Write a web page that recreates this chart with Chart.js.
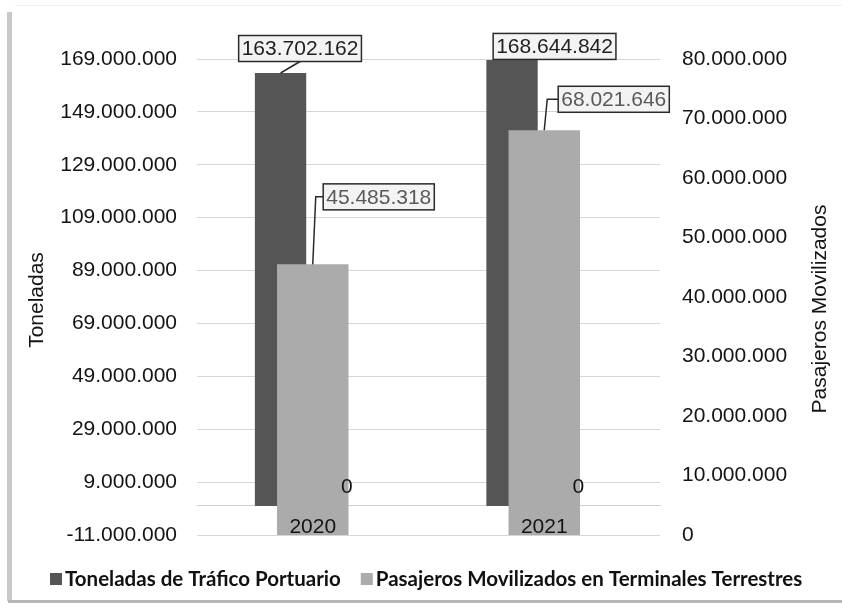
<!DOCTYPE html>
<html><head><meta charset="utf-8">
<style>html,body{margin:0;padding:0;background:#fff;}#wrap{width:842px;height:605px;}</style>
<script src="https://cdn.jsdelivr.net/npm/chart.js@4.4.0/dist/chart.umd.min.js"></script>
</head><body><div id="wrap"><canvas id="c" width="842" height="605"></canvas></div>
<script>
const categories = ['2020', '2021'];
const toneladas = [163702162, 168644842];
const serieCero = [0, 0];
const pasajeros = [45485318, 68021646];
const leftTicks = [-11000000, 9000000, 29000000, 49000000, 69000000, 89000000, 109000000, 129000000, 149000000, 169000000];
const rightTicks = [0, 10000000, 20000000, 30000000, 40000000, 50000000, 60000000, 70000000, 80000000];
const seriesNames = ['Toneladas de Tráfico Portuario', 'Serie 3', 'Pasajeros Movilizados en Terminales Terrestres'];
const axisTitles = ['Toneladas', 'Pasajeros Movilizados'];

function fmt(v) {
  const s = Math.abs(v).toString().replace(/\B(?=(\d{3})+(?!\d))/g, '.');
  return (v < 0 ? '-' : '') + s;
}

const FONT = "'Liberation Sans', Arial, sans-serif";
const TXT = '#141414';

// label placement (style): [dx, dy, leaderType]
const labelPlacement = {
  0: [[19.5, -24.5, 'straight'], [42.5, -13.5, 'none']],
  2: [[66, -67.5, 'elbow'], [69.5, -31, 'elbow']]
};
const labelTextColor = {0: '#222222', 2: '#5a5a5a'};

const decor = {
  id: 'decor',
  beforeDraw(chart) {
    const ctx = chart.ctx;
    ctx.save();
    ctx.fillStyle = '#ffffff';
    ctx.fillRect(0, 0, chart.width, chart.height);
    ctx.fillStyle = '#c8c8c8';
    ctx.fillRect(7, 12, 5, 589);
    ctx.fillStyle = '#b8b8b8';
    ctx.fillRect(8, 600, 834, 3);
    ctx.fillStyle = '#efefef';
    ctx.fillRect(15, 5, 827, 1);
    ctx.restore();
  },
  afterDraw(chart) {
    const ctx = chart.ctx;
    ctx.save();
    ctx.font = '21px ' + FONT;
    ctx.textAlign = 'center';
    ctx.textBaseline = 'middle';
    Object.keys(labelPlacement).forEach(di => {
      const meta = chart.getDatasetMeta(+di);
      const data = chart.data.datasets[di].data;
      meta.data.forEach((el, i) => {
        const [dx, dy, type] = labelPlacement[di][i];
        const bx = el.x, by = el.y;
        const cx = bx + dx, cy = by + dy;
        const txt = fmt(data[i]);
        const w = ctx.measureText(txt).width + 6;
        const h = 26;
        ctx.strokeStyle = '#2a2a2a';
        ctx.lineWidth = 1.5;
        if (type === 'straight') {
          ctx.beginPath(); ctx.moveTo(bx, by); ctx.lineTo(cx, cy + h / 2); ctx.stroke();
        } else if (type === 'elbow') {
          ctx.beginPath(); ctx.moveTo(bx, by); ctx.lineTo(bx + 3, cy); ctx.lineTo(cx - w / 2, cy); ctx.stroke();
        }
        ctx.fillStyle = '#f3f3f3';
        ctx.fillRect(cx - w / 2, cy - h / 2, w, h);
        ctx.strokeRect(cx - w / 2, cy - h / 2, w, h);
        ctx.fillStyle = labelTextColor[di];
        ctx.fillText(txt, cx, cy + 1);
      });
    });
    const m1 = chart.getDatasetMeta(1);
    ctx.fillStyle = TXT;
    m1.data.forEach((el, i) => {
      ctx.fillText(fmt(chart.data.datasets[1].data[i]), el.x + 2, el.y - 19);
    });
    ctx.save(); ctx.translate(37, 300); ctx.rotate(-Math.PI / 2); ctx.fillText(axisTitles[0], 0, 0); ctx.restore();
    ctx.save(); ctx.translate(820, 309); ctx.rotate(-Math.PI / 2); ctx.fillText(axisTitles[1], 0, 0); ctx.restore();
    ctx.font = "bold 20.5px Lato, 'Open Sans', sans-serif";
    ctx.textAlign = 'left';
    let x = 50;
    [0, 2].forEach(di => {
      const ds = chart.data.datasets[di];
      ctx.fillStyle = ds.backgroundColor;
      ctx.fillRect(x, 573, 12, 12);
      ctx.fillStyle = '#111111';
      ctx.fillText(ds.label, x + 15, 579);
      x += 15 + ctx.measureText(ds.label).width + 20;
    });
    ctx.restore();
  }
};

new Chart(document.getElementById('c'), {
  type: 'bar',
  data: {
    labels: categories,
    datasets: [
      {label: seriesNames[0], data: toneladas, backgroundColor: '#555555', yAxisID: 'y', order: 1,
       grouped: true, categoryPercentage: 0.5565, barPercentage: 0.797},
      {label: seriesNames[1], data: serieCero, backgroundColor: 'rgba(0,0,0,0)', yAxisID: 'y', order: 1,
       grouped: true, categoryPercentage: 0.5565, barPercentage: 0.797},
      {label: seriesNames[2], data: pasajeros, backgroundColor: '#ababab', yAxisID: 'y1', order: 0,
       grouped: false, categoryPercentage: 1, barPercentage: 0.3087}
    ]
  },
  options: {
    responsive: false,
    animation: false,
    layout: {padding: {top: 59, bottom: 70, left: 0, right: 0}},
    plugins: {legend: {display: false}, tooltip: {enabled: false}},
    scales: {
      x: {
        type: 'category', offset: true, position: {y: 0},
        grid: {display: false, drawTicks: false},
        border: {display: true, color: '#cfcfcf', width: 1},
        ticks: {font: {family: FONT, size: 21}, color: TXT, padding: 9, z: 1}
      },
      y: {
        position: 'left', min: -11000000, max: 169000000,
        afterBuildTicks: s => { s.ticks = leftTicks.map(v => ({value: v})); },
        afterFit: s => { s.width = 197; },
        grid: {color: '#d6d6d6', drawTicks: false},
        border: {display: false},
        ticks: {font: {family: FONT, size: 21}, color: TXT, padding: 20, callback: v => fmt(v)}
      },
      y1: {
        position: 'right', min: 0, max: 80000000,
        afterBuildTicks: s => { s.ticks = rightTicks.map(v => ({value: v})); },
        afterFit: s => { s.width = 182; },
        grid: {display: false, drawOnChartArea: false, drawTicks: false},
        border: {display: false},
        ticks: {font: {family: FONT, size: 21}, color: TXT, padding: 22, callback: v => fmt(v)}
      }
    }
  },
  plugins: [decor]
});
</script></body></html>
